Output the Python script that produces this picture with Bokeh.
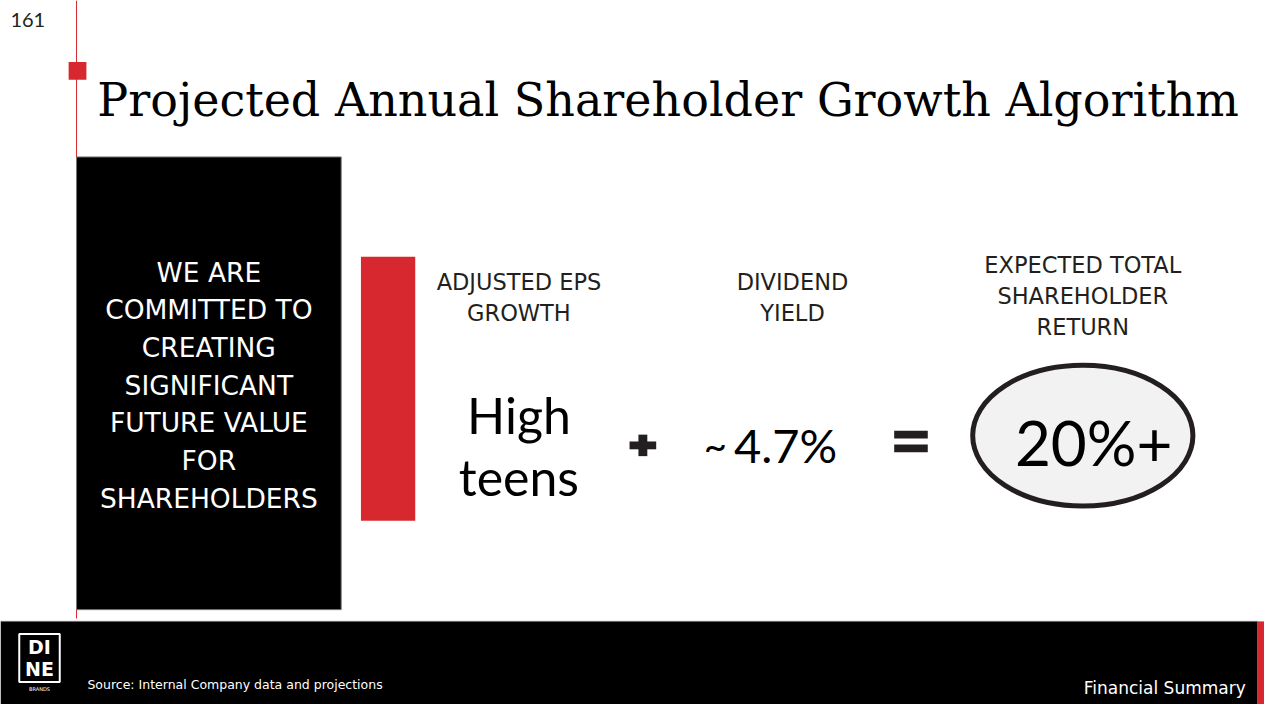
from bokeh.plotting import figure
from bokeh.models import Range1d
from bokeh.core.properties import value
from bokeh.embed import file_html
from bokeh.resources import INLINE

# ---- content ----
page_number = "161"
title = "Projected Annual Shareholder Growth Algorithm"
mission_lines = ["WE ARE", "COMMITTED TO", "CREATING", "SIGNIFICANT",
                 "FUTURE VALUE", "FOR", "SHAREHOLDERS"]
eps_header = ["ADJUSTED EPS", "GROWTH"]
dividend_header = ["DIVIDEND", "YIELD"]
tsr_header = ["EXPECTED TOTAL", "SHAREHOLDER", "RETURN"]
eps_value = ["High", "teens"]
dividend_value = "~4.7%"
tsr_value = "20%+"
source_note = "Source:  Internal Company data and projections"
section_name = "Financial Summary"
logo_rows = ["DI", "NE"]
logo_sub = "BRANDS"

RED = "#d7282f"
DARK = "#231f20"
SANS = "DejaVu Sans"
HUMAN = "Lato"
SERIF = "DejaVu Serif"

# slide coordinates are 1280 x 720 (y measured downward); mapped into the figure
W, H = 1264, 704
p = figure(width=W, height=H, output_backend="svg", toolbar_location=None,
           x_range=Range1d(0, 1280), y_range=Range1d(0, 720), min_border=0)
p.axis.visible = False
p.grid.visible = False
p.outline_line_color = None
p.background_fill_color = "white"
p.border_fill_color = "white"


def Y(sy):
    return 720 - sy


def box(x0, x1, y0, y1, color, line=None, lw=0):
    p.quad(left=[x0], right=[x1], top=[Y(y0)], bottom=[Y(y1)],
           fill_color=color, line_color=line, line_width=lw)


def txt(x, y, s, size, color="black", font=SANS, align="center",
        baseline="middle", style="normal"):
    p.text(x=[x], y=[Y(y)], text=[s], text_font=value(font),
           text_font_size=f"{size}px", text_color=color, text_align=align,
           text_baseline=baseline, text_font_style=style)


# thin red vertical rule + square marker
p.segment(x0=[77], y0=[Y(0)], x1=[77], y1=[Y(632)], line_color=RED, line_width=1)
box(69, 87, 63, 81, RED)

# page number and title
txt(10, 20, page_number, 20, color="#222222", font=HUMAN, align="left")
txt(98, 102, title, 46, font=SERIF, align="left", baseline="alphabetic")

# black mission box
box(77, 345, 160, 623, "black", line="#777777", lw=1)
for i, s in enumerate(mission_lines):
    txt(211, 278 + i * 38.5, s, 26.5, color="white")

# red bar
box(365, 420, 262, 532, RED)

# headers
for i, s in enumerate(eps_header):
    txt(525, 288 + i * 31.5, s, 22.5, color=DARK)
for i, s in enumerate(dividend_header):
    txt(802, 288 + i * 31.5, s, 22.5, color=DARK)
for i, s in enumerate(tsr_header):
    txt(1096, 271 + i * 31.5, s, 22.5, color=DARK)

# values
for i, s in enumerate(eps_value):
    txt(525, 424 + i * 63, s, 50, color="black", font=HUMAN)
txt(724, 455, dividend_value[0], 40, color="black", font=HUMAN)
txt(795, 455, dividend_value[1:], 47, color="black", font=HUMAN)

# plus sign
box(646, 655, 444, 466, DARK)
box(637, 664, 451, 459, DARK)
# equals sign
box(905, 939, 440, 448, DARK)
box(905, 939, 454, 462, DARK)

# ellipse
p.ellipse(x=[1096], y=[Y(445)], width=223, height=144, fill_color="#f2f2f2",
          line_color=DARK, line_width=5)
txt(1107, 452, tsr_value, 62, color="black", font=HUMAN)

# footer
box(0, 1273, 635, 720, "black")
box(1273, 1280, 635, 720, RED)
p.segment(x0=[0], y0=[Y(635)], x1=[1273], y1=[Y(635)], line_color="#666666", line_width=1)

# logo
p.quad(left=[19], right=[60], top=[Y(648)], bottom=[Y(697)],
       fill_color=None, line_color="white", line_width=2)
txt(39.5, 661, logo_rows[0], 19, color="white", style="bold")
txt(39.5, 684, logo_rows[1], 19, color="white", style="bold")
txt(39.5, 704, logo_sub, 5, color="white")

txt(88, 700, source_note, 12.5, color="white", align="left")
txt(1261, 703, section_name, 17, color="white", align="right")

open("out.html", "w").write(file_html(p, INLINE))
